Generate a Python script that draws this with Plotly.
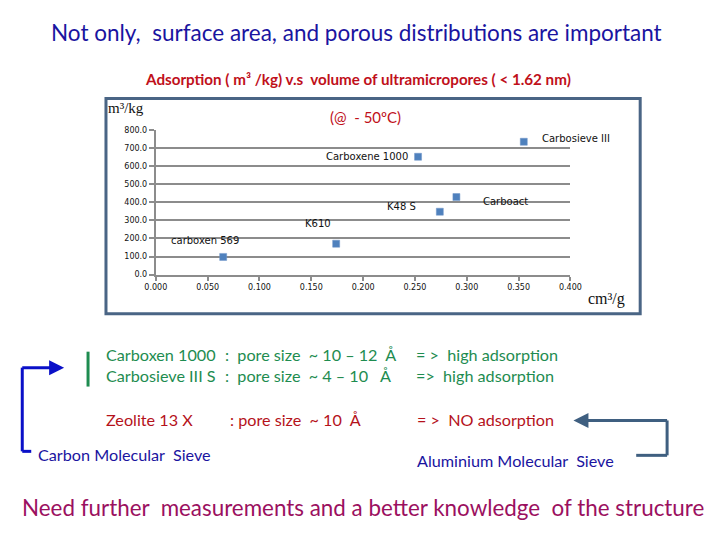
import plotly.graph_objects as go

# ---- data ----
names = ["carboxen 569", "K610", "Carboxene 1000", "Carbosieve III", "Carboact", "K48 S"]
pore_volume = [0.065, 0.174, 0.253, 0.355, 0.290, 0.274]      # cm3/g
adsorption = [98, 171, 652, 735, 429, 348]                     # m3/kg
x_ticks = [0.0, 0.05, 0.10, 0.15, 0.20, 0.25, 0.30, 0.35, 0.40]
x_tick_labels = ["0.000", "0.050", "0.100", "0.150", "0.200", "0.250", "0.300", "0.350", "0.400"]
y_ticks = [0, 100, 200, 300, 400, 500, 600, 700, 800]
y_tick_labels = ["0.0", "100.0", "200.0", "300.0", "400.0", "500.0", "600.0", "700.0", "800.0"]

# label placement (style)
lab_anchor = ["right", "right", "right", "left", "left", "right"]
lab_dx = [18, -3, -8, 16, 25, -22]
lab_dy = [16, 20, 0, 3, -4, 5]

W, H = 704, 524
SX, OX = 0.972, 9.7
SY, OY = 0.986, 2.2
def px(x): return ((x - OX) / SX) / W
def py(y): return 1 - ((y - OY) / SY) / H

fig = go.Figure()
fig.add_trace(go.Scatter(
    x=pore_volume, y=adsorption, mode="markers",
    marker=dict(symbol="square", size=7, color="#4F81BD",
                line=dict(color="#6F95C8", width=0.5)),
    hoverinfo="skip", showlegend=False))

ann = []
for n, xv, yv, a, dx, dy in zip(names, pore_volume, adsorption, lab_anchor, lab_dx, lab_dy):
    ann.append(dict(x=xv, y=yv, xref="x", yref="y", text=n, showarrow=False,
                    xanchor=a, yanchor="middle", xshift=dx, yshift=dy,
                    font=dict(family="DejaVu Sans", size=10, color="#111111")))

def txt(x, y, s, color, size, family="Lato", anchor="left", bold=False):
    if bold:
        s = "<b>" + s + "</b>"
    ann.append(dict(x=px(x), y=py(y), xref="paper", yref="paper", text=s, showarrow=False,
                    xanchor=anchor, yanchor="middle", borderpad=0,
                    font=dict(family=family, size=size, color=color)))

navy = "#1A14A0"
green = "#1E8C50"
red = "#B5121B"
txt(356, 31, "Not only,  surface area, and porous distributions are important", navy, 22.5, anchor="center")
txt(358, 77, "Adsorption ( m³ /kg) v.s  volume of ultramicropores ( &lt; 1.62 nm)", "#C0101A", 15.2, anchor="center", bold=True)
txt(106, 107, "m³/kg", "#111111", 15, family="Liberation Serif")
txt(365, 116, "(@  - 50ºC)", "#C0101A", 15, anchor="center")
txt(588, 298, "cm³/g", "#111111", 16, family="Liberation Serif")

txt(104, 354, "Carboxen 1000", green, 16.2)
txt(223, 354, ":  pore size  ~ 10 – 12  Å", green, 16.2)
txt(415, 354, "= >  high adsorption", green, 16.2)
txt(104, 375, "Carbosieve III S", green, 16.2)
txt(223, 375, ":  pore size  ~ 4 – 10   Å", green, 16.2)
txt(415, 375, "=>  high adsorption", green, 16.2)
txt(104, 419, "Zeolite 13 X", red, 16.2)
txt(228, 419, ": pore size  ~ 10  Å", red, 16.2)
txt(416, 419, "= >  NO adsorption", red, 16.2)
txt(36, 454, "Carbon Molecular  Sieve", navy, 16.2)
txt(416, 460, "Aluminium Molecular  Sieve", navy, 16.2)
txt(363, 507, "Need further  measurements and a better knowledge  of the structure", "#9B1060", 22.4, anchor="center")

# arrows heads
ann.append(dict(x=px(63), y=py(367), xref="paper", yref="paper", ax=-12, ay=0, text="",
                showarrow=True, arrowhead=2, arrowsize=1, arrowwidth=3, arrowcolor="#0A10C8"))
ann.append(dict(x=px(574), y=py(420), xref="paper", yref="paper", ax=12, ay=0, text="",
                showarrow=True, arrowhead=2, arrowsize=1, arrowwidth=3, arrowcolor="#3F5F80"))

shapes = []
# chart frame
shapes.append(dict(type="rect", xref="paper", yref="paper", x0=px(105), x1=px(641), y0=py(313), y1=py(97),
                   line=dict(color="#4A6585", width=3), layer="below"))
def line(x0, y0, x1, y1, color, w):
    shapes.append(dict(type="line", xref="paper", yref="paper", x0=px(x0), y0=py(y0), x1=px(x1), y1=py(y1),
                       line=dict(color=color, width=w)))
# left blue bracket
line(30, 451, 21, 451, "#0A10C8", 3)
line(21, 451, 21, 367, "#0A10C8", 3)
line(21, 367, 56, 367, "#0A10C8", 3)
# green bar
line(87, 351, 87, 386, green, 3)
# right bracket
line(637, 455, 668, 455, "#3F5F80", 3)
line(668, 455, 668, 420, "#3F5F80", 3)
line(668, 420, 582, 420, "#3F5F80", 3)

fig.update_layout(
    width=W, height=H, margin=dict(l=0, r=0, t=0, b=0),
    paper_bgcolor="white", plot_bgcolor="white",
    annotations=ann, shapes=shapes, showlegend=False,
    xaxis=dict(domain=[px(155), px(571)], range=[0, 0.4], tickmode="array",
               tickvals=x_ticks, ticktext=x_tick_labels, showgrid=False, zeroline=False,
               showline=True, linecolor="#8C8C8C", linewidth=2, ticks="outside",
               ticklen=4, tickcolor="#8C8C8C", tickwidth=1.5,
               tickfont=dict(family="DejaVu Sans", size=8, color="#111111")),
    yaxis=dict(domain=[py(273.7), py(128.6)], range=[0, 800], tickmode="array",
               tickvals=y_ticks, ticktext=y_tick_labels, showgrid=True, gridcolor="#8C8C8C",
               gridwidth=2, zeroline=False, showline=True, linecolor="#8C8C8C", linewidth=2,
               ticks="outside", ticklen=5, tickcolor="#8C8C8C", tickwidth=1.5,
               tickfont=dict(family="DejaVu Sans", size=8, color="#111111")),
)
fig.write_html("out.html")
